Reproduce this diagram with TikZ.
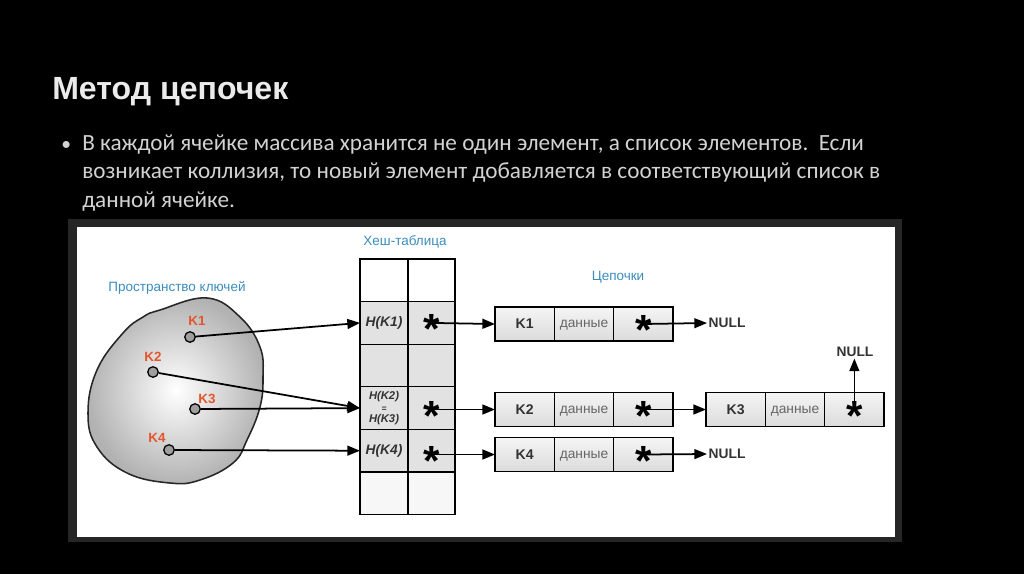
\documentclass[tikz,border=0pt]{standalone}
\usepackage{fontspec}
\setmainfont{Liberation Sans}
\newfontfamily\slidefont{Carlito}
\usetikzlibrary{arrows.meta,positioning,shapes.geometric}

\definecolor{slidetext}{HTML}{D2D2D2}
\definecolor{keyred}{HTML}{E2552D}
\definecolor{capblue}{HTML}{3C8DBD}
\definecolor{cellgray}{HTML}{E2E2E2}
\definecolor{inktext}{HTML}{333333}

\tikzset{
  arr/.style={-{Triangle[length=9pt,width=7pt]}, line width=1.25pt},
  keydot/.style={circle, draw, line width=0.9pt, fill=gray!75, minimum size=7.5pt, inner sep=0},
  keylbl/.style={text=keyred, font=\bfseries\fontsize{9.5}{10}\selectfont},
  caption/.style={text=capblue, font=\fontsize{9.6}{11}\selectfont},
  hcell/.style={draw, line width=0.9pt, minimum height=1.065cm, inner sep=0, outer sep=0},
  htext/.style={text=inktext, font=\bfseries\itshape\fontsize{9.8}{11}\selectfont},
  lcell/.style={draw, line width=0.9pt, minimum width=1.483cm, minimum height=0.85cm,
    inner sep=0, outer sep=0, top color=gray!8, bottom color=gray!28, text=inktext},
  keytxt/.style={font=\bfseries\fontsize{10}{11}\selectfont},
  datatxt/.style={font=\fontsize{9.8}{11}\selectfont, text=gray!80!black, text depth=0pt},
  astk/.style={font=\bfseries\fontsize{30}{30}\selectfont, inner sep=0, yshift=-4.5pt},
  nullv/.style={font=\bfseries\fontsize{9.8}{11}\selectfont, inner sep=1pt, text=inktext},
  bodyline/.style={anchor=base west, inner sep=0, text=slidetext, font=\slidefont\fontsize{16.5}{18}\selectfont},
}

\begin{document}
\begin{tikzpicture}[x=0.025cm, y=-0.025cm]
\useasboundingbox[fill=black] (0,0) rectangle (1024,574);

\node[anchor=base west, inner sep=0, text=white!92!black, font=\bfseries\fontsize{22.8}{24}\selectfont] (title) at (52,99) {Метод цепочек};
\node[anchor=base west, inner sep=0, text=slidetext, font=\slidefont\fontsize{14}{16}\selectfont] (bullet) at (61,150) {•};
\node[bodyline] (line1) at (82,150) {В каждой ячейке массива хранится не один элемент, а список элементов.\ \ Если};
\node[bodyline] (line2) at (82,178.5) {возникает коллизия, то новый элемент добавляется в соответствующий список в};
\node[bodyline] (line3) at (82,207) {данной ячейке.};

\fill[black!85] (68,219) rectangle (902,542);
\fill[white] (77,227) rectangle (895,537);

\shade[inner color=white, outer color=gray!60, draw=black!85, line width=1.1pt]
  plot[smooth cycle, tension=0.7] coordinates {(160,310) (207,298) (240,317) (260,347) (263,377) (260,407)
  (247,440) (233,463) (200,480) (170,483) (127,473) (97,447) (88,413) (97,370) (123,333) (143,317)};
\node[caption] (keyspace) at (177,288) {Пространство ключей};

\node[keydot] (kd1) at (190,337) {};
\node[keydot] (kd2) at (153,372) {};
\node[keydot] (kd3) at (195,409) {};
\node[keydot] (kd4) at (169,450) {};
\node[keylbl] at (197,321) {K1};
\node[keylbl] at (153,357) {K2};
\node[keylbl] at (207,399) {K3};
\node[keylbl] at (157,438) {K4};

\node[caption] (hashcap) at (405,242) {Хеш-таблица};
\foreach \r/\c in {0/white,1/cellgray,2/cellgray,3/cellgray,4/cellgray,5/gray!6} {
  \node[hcell, fill=\c, minimum width=1.2cm] (hh\r) at (384,{280.3+42.6*\r}) {};
  \node[hcell, fill=\c, minimum width=1.175cm] (hp\r) at (431.5,{280.3+42.6*\r}) {};
}
\node[htext] at (hh1) {H(K1)};
\node[htext, align=center, font=\bfseries\itshape\fontsize{8}{9.5}\selectfont] at (hh3) {H(K2)\\[-1pt]{\fontsize{6}{6}\selectfont=}\\[-1pt]H(K3)};
\node[htext] at (hh4) {H(K4)};

\draw[arr] (kd1) -- (hh1.west);
\draw[arr] (kd2) -- (hh3.west);
\draw[arr] (kd3) -- (hh3.west);
\draw[arr] (kd4) -- (hh4.west);

\node[caption] (chaincap) at (618,277) {Цепочки};

\node[lcell, keytxt] (c1k) at (524.7,324) {K1};
\node[lcell, datatxt, right=0pt of c1k] (c1d) {данные};
\node[lcell, right=0pt of c1d] (c1p) {};
\node[lcell, keytxt] (c2k) at (524.7,409.5) {K2};
\node[lcell, datatxt, right=0pt of c2k] (c2d) {данные};
\node[lcell, right=0pt of c2d] (c2p) {};
\node[lcell, keytxt] (c3k) at (735.7,409.5) {K3};
\node[lcell, datatxt, right=0pt of c3k] (c3d) {данные};
\node[lcell, right=0pt of c3d] (c3p) {};
\node[lcell, keytxt] (c4k) at (524.7,454.5) {K4};
\node[lcell, datatxt, right=0pt of c4k] (c4d) {данные};
\node[lcell, right=0pt of c4d] (c4p) {};

\node[nullv, anchor=west] (n1) at (707,323) {NULL};
\node[nullv] (n3) at (855,352) {NULL};
\node[nullv, anchor=west] (n4) at (707,454) {NULL};

\draw[arr] (hp1.center) -- (c1k.west);
\draw[arr] (hp3.center |- c2k) -- (c2k.west);
\draw[arr] (hp4.center |- c4k) -- (c4k.west);
\draw[arr] (c1p.center) -- (n1.west);
\draw[arr] (c2p.center) -- (c3k.west);
\draw[arr] (c4p.center) -- (n4.west);
\draw[arr] (c3p.center) -- (c3p.center |- n3.south);

\node[astk] at (hp1) {*};
\node[astk] at (hp3.center |- c2k) {*};
\node[astk] at (hp4.center |- c4k) {*};
\node[astk] at (c1p) {*};
\node[astk] at (c2p) {*};
\node[astk] at (c3p) {*};
\node[astk] at (c4p) {*};
\end{tikzpicture}
\end{document}
